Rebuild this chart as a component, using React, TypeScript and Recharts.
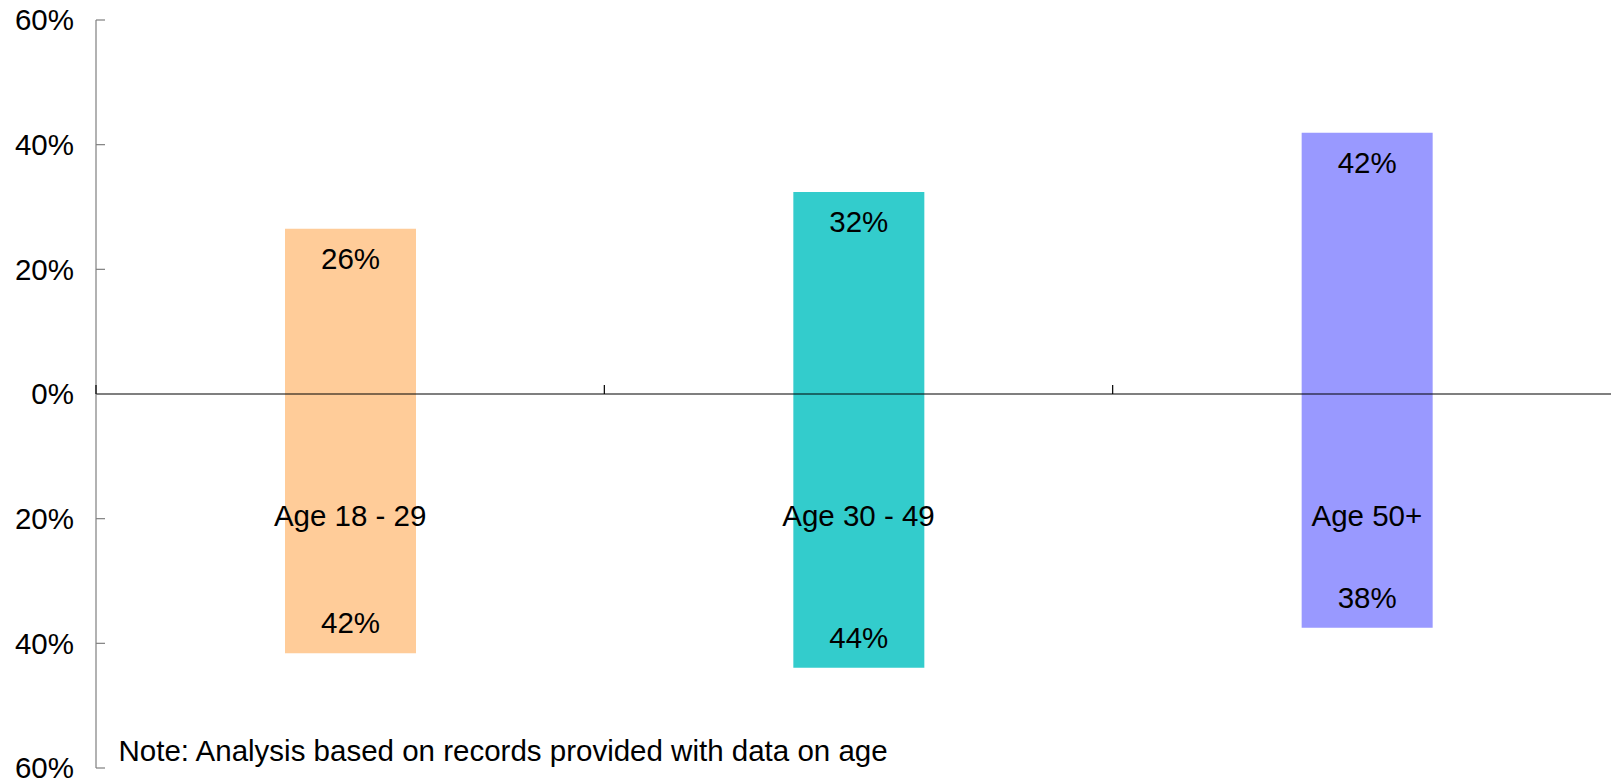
import React from 'react';
import { BarChart, Bar, XAxis, YAxis, Cell, LabelList, ReferenceLine } from 'recharts';

// ---- data ----
const categories = ['Age 18 - 29', 'Age 30 - 49', 'Age 50+'];
const upperValues = [26.5, 32.4, 41.9];
const lowerValues = [-41.6, -43.9, -37.5];
const upperLabels = ['26%', '32%', '42%'];
const lowerLabels = ['42%', '44%', '38%'];
const barColors = ['#FFCC99', '#33CCCC', '#9999FF'];
const yTicks = [-60, -40, -20, 0, 20, 40, 60];
const noteText = 'Note: Analysis based on records provided with data on age';

// ---- layout ----
const CHART_W = 1640;
const CHART_H = 784;
const MARGIN = { top: 20, right: 19, bottom: 14, left: 0 };
const X_AXIS_H = 2;
const Y_AXIS_W = 96;
const PLOT_H = CHART_H - MARGIN.top - MARGIN.bottom - X_AXIS_H;
const PLOT_W = CHART_W - MARGIN.left - MARGIN.right - Y_AXIS_W;
const FONT = '"Liberation Sans", Arial, sans-serif';
const FS = 29.5;

const data = categories.map((c, i) => ({
  category: c,
  upper: upperValues[i],
  lower: lowerValues[i],
  upperLabel: upperLabels[i],
  lowerLabel: lowerLabels[i],
}));

const CategoryTick = (props: any) => {
  const { x, y, payload, index } = props;
  const half = payload && typeof payload.offset === 'number' && payload.offset > 0
    ? payload.offset
    : PLOT_W / categories.length / 2;
  const zeroY = y - PLOT_H / 2;
  const labelY = y - PLOT_H / 3 + 7;
  return (
    <g>
      <line x1={x - half} x2={x - half} y1={zeroY} y2={zeroY - 9} stroke="#000" strokeWidth={1.2} />
      {index === categories.length - 1 && (
        <line x1={x + half} x2={x + half} y1={zeroY} y2={zeroY - 9} stroke="#000" strokeWidth={1.2} />
      )}
      <text x={x} y={labelY} textAnchor="middle" fontSize={FS} fontFamily={FONT} fill="#000">
        {payload.value}
      </text>
    </g>
  );
};

export default function App() {
  return (
    <div
      style={{
        position: 'fixed',
        left: 0,
        top: 0,
        width: 1611,
        height: 784,
        overflow: 'hidden',
        background: '#fff',
      }}
    >
      <BarChart
        width={CHART_W}
        height={CHART_H}
        data={data}
        margin={MARGIN}
        stackOffset="sign"
        barSize={131}
      >
        <XAxis
          dataKey="category"
          height={X_AXIS_H}
          axisLine={false}
          tickLine={false}
          tickSize={0}
          tickMargin={0}
          tick={<CategoryTick />}
          interval={0}
        />
        <YAxis
          width={Y_AXIS_W}
          domain={[-60, 60]}
          ticks={yTicks}
          interval={0}
          tickFormatter={(v: number) => `${Math.abs(v)}%`}
          stroke="#7f7f7f"
          axisLine={{ stroke: '#7f7f7f', strokeWidth: 1.2 }}
          tickLine={{ stroke: '#7f7f7f', strokeWidth: 1.2 }}
          tickSize={-9}
          tickMargin={31}
          tick={{ fill: '#000', fontSize: FS, fontFamily: FONT }}
        />
        <Bar dataKey="upper" stackId="s" isAnimationActive={false}>
          {data.map((d, i) => (
            <Cell key={`u${i}`} fill={barColors[i]} />
          ))}
          <LabelList
            dataKey="upperLabel"
            position="insideTop"
            offset={19}
            fill="#000"
            fontSize={FS}
            fontFamily={FONT}
          />
        </Bar>
        <Bar dataKey="lower" stackId="s" isAnimationActive={false}>
          {data.map((d, i) => (
            <Cell key={`l${i}`} fill={barColors[i]} />
          ))}
          <LabelList
            dataKey="lowerLabel"
            position="insideTop"
            offset={20}
            fill="#000"
            fontSize={FS}
            fontFamily={FONT}
          />
        </Bar>
        <ReferenceLine y={0} stroke="#000" strokeWidth={1.2} />
      </BarChart>
      <svg
        width={1611}
        height={784}
        style={{ position: 'absolute', left: 0, top: 0, pointerEvents: 'none' }}
      >
        <text x={118.5} y={761} fontSize={FS} fontFamily={FONT} fill="#000">
          {noteText}
        </text>
      </svg>
    </div>
  );
}
